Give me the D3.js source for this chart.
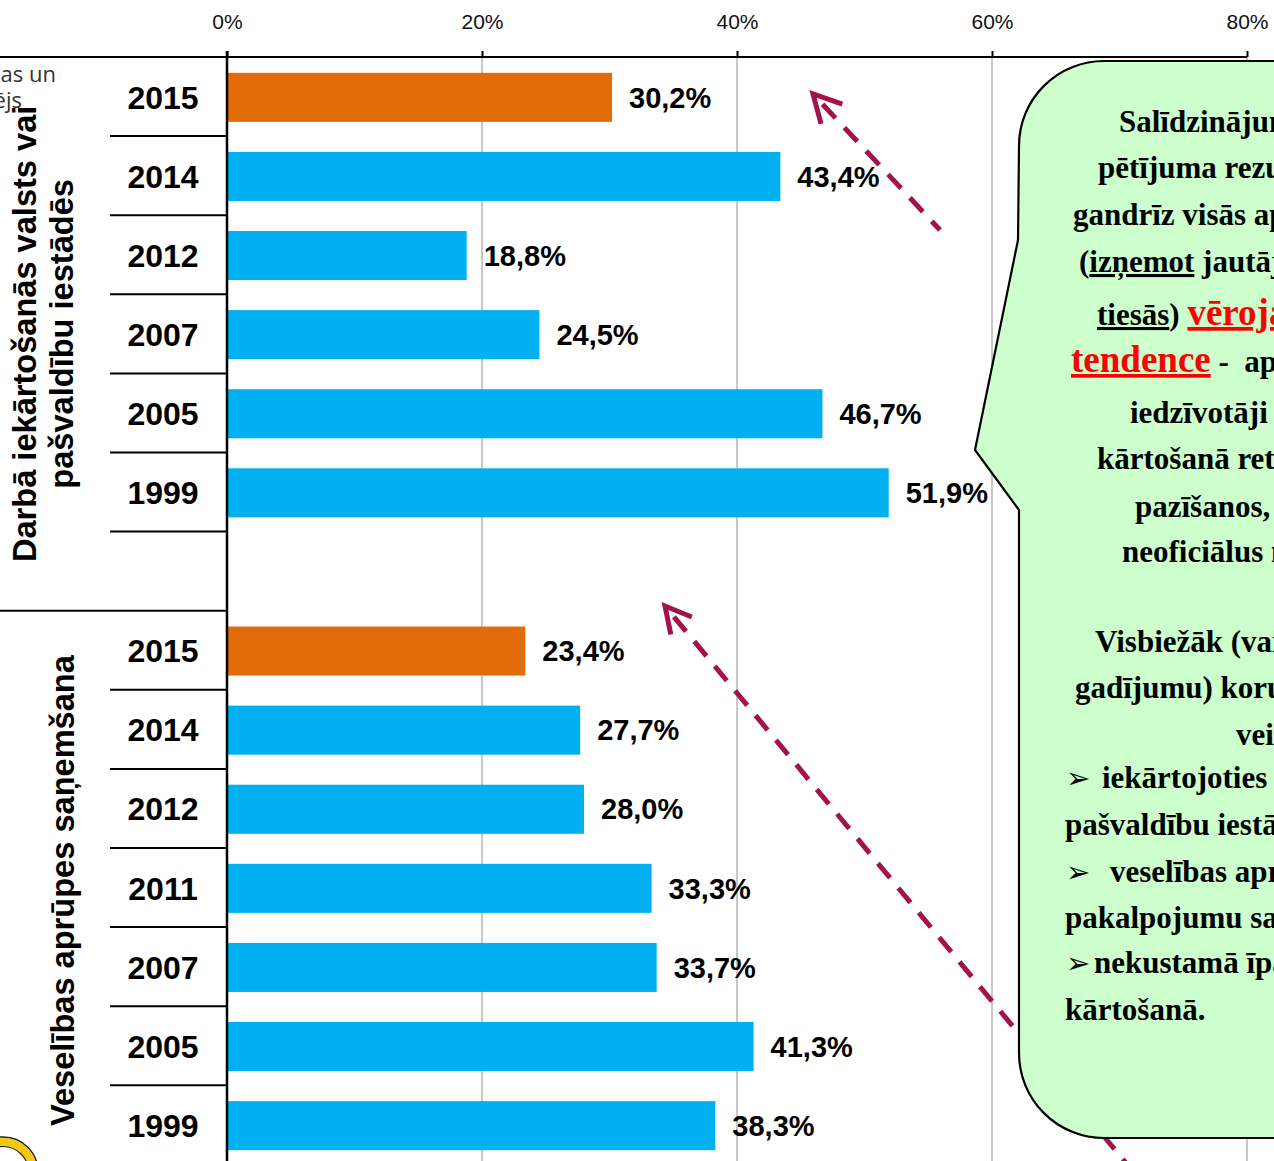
<!DOCTYPE html>
<html>
<head>
<meta charset="utf-8">
<title>korupcijas gadijumi</title>
<script src="https://cdn.jsdelivr.net/npm/d3@7"></script>
<style>
  body { margin: 0; background: #fff; overflow: hidden; }
  svg { display: block; }
</style>
</head>
<body>
<script>
var width = 1274, height = 1161

// data
var groupLabels = [["Darbā iekārtošanās valsts vai", "pašvaldību iestādēs"], ["Veselības aprūpes saņemšana"]]
var years1 = ["2015", "2014", "2012", "2007", "2005", "1999"]
var values1 = [30.2, 43.4, 18.8, 24.5, 46.7, 51.9]
var years2 = ["2015", "2014", "2012", "2011", "2007", "2005", "1999"]
var values2 = [23.4, 27.7, 28.0, 33.3, 33.7, 41.3, 38.3]
var tickValues = [0, 20, 40, 60, 80]

// callout text (lines are cut by the right edge, as in the slide)
var noteLines = [
  [{t: "Salīdzinājumā ar iepriekšējo"}],
  [{t: "pētījuma rezultātiem,"}],
  [{t: "gandrīz visās aptaujas jomās"}],
  [{t: "("}, {t: "izņemot", u: 1}, {t: " jautājumu kārtošanu"}],
  [{t: "tiesās", u: 1}, {t: ") "}, {t: "vērojama pozitīva", u: 1, red: 1}],
  [{t: "tendence", u: 1, red: 1}, {t: " -  aptaujātie"}],
  [{t: "iedzīvotāji jautājumu"}],
  [{t: "kārtošanā retāk izmanto"}],
  [{t: "pazīšanos, dāvanas vai"}],
  [{t: "neoficiālus maksājumus."}],
  [],
  [{t: "Visbiežāk (vairāk nekā 20%"}],
  [{t: "gadījumu) korupcija notiek"}],
  [{t: "veidā:"}],
  [{t: "➢", b: 1}, {t: "iekārtojoties darbā valsts vai", x: 1102}],
  [{t: "pašvaldību iestādēs;"}],
  [{t: "➢", b: 1}, {t: "veselības aprūpes", x: 1110}],
  [{t: "pakalpojumu saņemšanā;"}],
  [{t: "➢", b: 1}, {t: "nekustamā īpašuma", x: 1094}],
  [{t: "kārtošanā."}]
]
var noteX = [1119, 1098, 1073, 1079, 1097, 1071, 1130, 1097, 1135, 1122, 0, 1095, 1075, 1236, 1066, 1065, 1066, 1065, 1066, 1065]
var noteY = [132, 178, 225, 272, 325, 372, 423, 469, 517, 562, 0, 652, 698, 745, 788, 835, 882, 928, 973, 1020]

var rows = []
years1.forEach(function(y, i) { rows.push({key: "a" + y, year: y, value: values1[i], now: i == 0}) })
rows.push({key: "gap", year: "", value: null})
years2.forEach(function(y, i) { rows.push({key: "b" + y, year: y, value: values2[i], now: i == 0}) })

var sans = "'Liberation Sans', Arial, sans-serif"
var serif = "'Liberation Serif', 'Times New Roman', serif"
var arrowColor = "#A3124C"

var svg = d3.select("body").append("svg")
  .attr("width", width).attr("height", height)

var axisY = 57
var x = d3.scaleLinear().domain([0, 80]).range([227, 1247])
var y = d3.scaleBand().domain(rows.map(function(d) { return d.key }))
  .range([axisY, axisY + rows.length * 79.1])
var bw = y.bandwidth()

// gridlines
svg.append("g").selectAll("line")
  .data(tickValues.slice(1)).enter().append("line")
  .attr("x1", function(d) { return x(d) }).attr("x2", function(d) { return x(d) })
  .attr("y1", axisY).attr("y2", height)
  .attr("stroke", "#c8c8c8").attr("stroke-width", 2)

// top axis
var axis = svg.append("g").attr("transform", "translate(0," + axisY + ")")
  .call(d3.axisTop(x).tickValues(tickValues).tickSize(6).tickPadding(22)
    .tickFormat(function(d) { return d + "%" }))
axis.select(".domain").remove()
axis.selectAll(".tick line").attr("stroke", "#000").attr("stroke-width", 2)
axis.selectAll(".tick text").attr("font-family", sans).attr("font-size", 21).attr("fill", "#111")
svg.append("line").attr("x1", 0).attr("x2", x(80)).attr("y1", axisY).attr("y2", axisY)
  .attr("stroke", "#000").attr("stroke-width", 2)

// bars
svg.append("g").selectAll("rect")
  .data(rows.filter(function(d) { return d.value != null })).enter().append("rect")
  .attr("x", x(0))
  .attr("y", function(d) { return y(d.key) + bw * 0.2 })
  .attr("width", function(d) { return x(d.value) - x(0) })
  .attr("height", bw * 0.62)
  .attr("fill", function(d) { return d.now ? "#E36C0A" : "#00B0F0" })

// value labels
svg.append("g").selectAll("text")
  .data(rows.filter(function(d) { return d.value != null })).enter().append("text")
  .attr("x", function(d) { return x(d.value) + 17 })
  .attr("y", function(d) { return y(d.key) + bw / 2 + 11 })
  .attr("font-family", sans).attr("font-weight", "bold").attr("font-size", 29)
  .text(function(d) { return d.value.toFixed(1).replace(".", ",") + "%" })

// year labels
svg.append("g").selectAll("text")
  .data(rows).enter().append("text")
  .attr("x", 163)
  .attr("y", function(d) { return y(d.key) + bw / 2 + 12 })
  .attr("text-anchor", "middle")
  .attr("font-family", sans).attr("font-weight", "bold").attr("font-size", 32)
  .text(function(d) { return d.year })

// row separators
svg.append("g").selectAll("line")
  .data(rows).enter().append("line")
  .attr("x1", function(d) { return d.key == "gap" ? 0 : 110 })
  .attr("x2", x(0))
  .attr("y1", function(d) { return y(d.key) + bw }).attr("y2", function(d) { return y(d.key) + bw })
  .attr("stroke", "#000").attr("stroke-width", 2)

// left axis line
svg.append("line").attr("x1", x(0)).attr("x2", x(0)).attr("y1", axisY - 6).attr("y2", height)
  .attr("stroke", "#000").attr("stroke-width", 2.5)

// group labels (rotated)
var g1mid = (y("a2015") + y("gap") + bw) / 2
var g2mid = (y("b2015") + y("b1999") + bw) / 2
groupLabels[0].forEach(function(t, i) {
  svg.append("text")
    .attr("transform", "translate(" + (36 + i * 37) + "," + g1mid + ") rotate(-90)")
    .attr("text-anchor", "middle")
    .attr("font-family", sans).attr("font-weight", "bold").attr("font-size", 32.6)
    .text(t)
})
svg.append("text")
  .attr("transform", "translate(74," + (g2mid + 3) + ") rotate(-90)")
  .attr("text-anchor", "middle")
  .attr("font-family", sans).attr("font-weight", "bold").attr("font-size", 32.6)
  .text(groupLabels[1][0])

// text of the previous slide part peeking in at top left
svg.append("text").attr("x", 56).attr("y", 82).attr("text-anchor", "end")
  .attr("font-family", "'Open Sans', sans-serif").attr("font-size", 22).attr("fill", "#333")
  .text("as un")
svg.append("text").attr("x", 22).attr("y", 108).attr("text-anchor", "end")
  .attr("font-family", "'Open Sans', sans-serif").attr("font-size", 22).attr("fill", "#333")
  .text("ējs")

// logo corner
svg.append("circle").attr("cx", 3).attr("cy", 1172).attr("r", 35)
  .attr("fill", "#fff").attr("stroke", "#222").attr("stroke-width", 1.5)
svg.append("circle").attr("cx", 3).attr("cy", 1172).attr("r", 30)
  .attr("fill", "none").attr("stroke", "#F2C811").attr("stroke-width", 8)
svg.append("circle").attr("cx", 3).attr("cy", 1172).attr("r", 25.5)
  .attr("fill", "none").attr("stroke", "#222").attr("stroke-width", 1.2)

// dashed arrows
function arrow(tip, tail, len) {
  var a = Math.atan2(tail[1] - tip[1], tail[0] - tip[0])
  var g = svg.append("g").attr("stroke", arrowColor).attr("stroke-width", 5)
    .attr("fill", "none").attr("stroke-linecap", "butt")
  g.append("line").attr("x1", tip[0] + 14 * Math.cos(a)).attr("y1", tip[1] + 14 * Math.sin(a))
    .attr("x2", tail[0]).attr("y2", tail[1]).attr("stroke-dasharray", "19,13")
  var d = 28 * Math.PI / 180
  g.append("path").attr("stroke-linejoin", "miter")
    .attr("d", "M" + (tip[0] + len * Math.cos(a - d)) + "," + (tip[1] + len * Math.sin(a - d)) +
      "L" + tip[0] + "," + tip[1] +
      "L" + (tip[0] + len * Math.cos(a + d)) + "," + (tip[1] + len * Math.sin(a + d)))
}
arrow([813, 94], [940, 230], 31)
arrow([665, 606], [1140, 1180], 29)

// callout box
var box = "M1104,61 L1300,61 L1300,1138 L1104,1138 A85,85 0 0 1 1019,1053 L1019,510 L975,450 L1018,240 L1019,146 A85,85 0 0 1 1104,61 Z"
svg.append("path").attr("d", box)
  .attr("fill", "#CCFFCC").attr("stroke", "#000").attr("stroke-width", 2.2)

var note = svg.append("g").attr("font-family", serif).attr("font-weight", "bold")
  .attr("font-size", 31).attr("fill", "#000")
noteLines.forEach(function(line, i) {
  if (!line.length) return
  var t = note.append("text").attr("x", noteX[i]).attr("y", noteY[i])
  line.forEach(function(s) {
    var sp = t.append("tspan").text(s.t).style("white-space", "pre")
    if (s.x) sp.attr("x", s.x)
    if (s.u) sp.style("text-decoration", "underline")
    if (s.red) sp.attr("fill", "#FF0000").attr("font-size", 37)
    if (s.b) sp.attr("font-family", "'DejaVu Sans', sans-serif").attr("font-weight", "normal").attr("font-size", 29)
  })
})
</script>
</body>
</html>
